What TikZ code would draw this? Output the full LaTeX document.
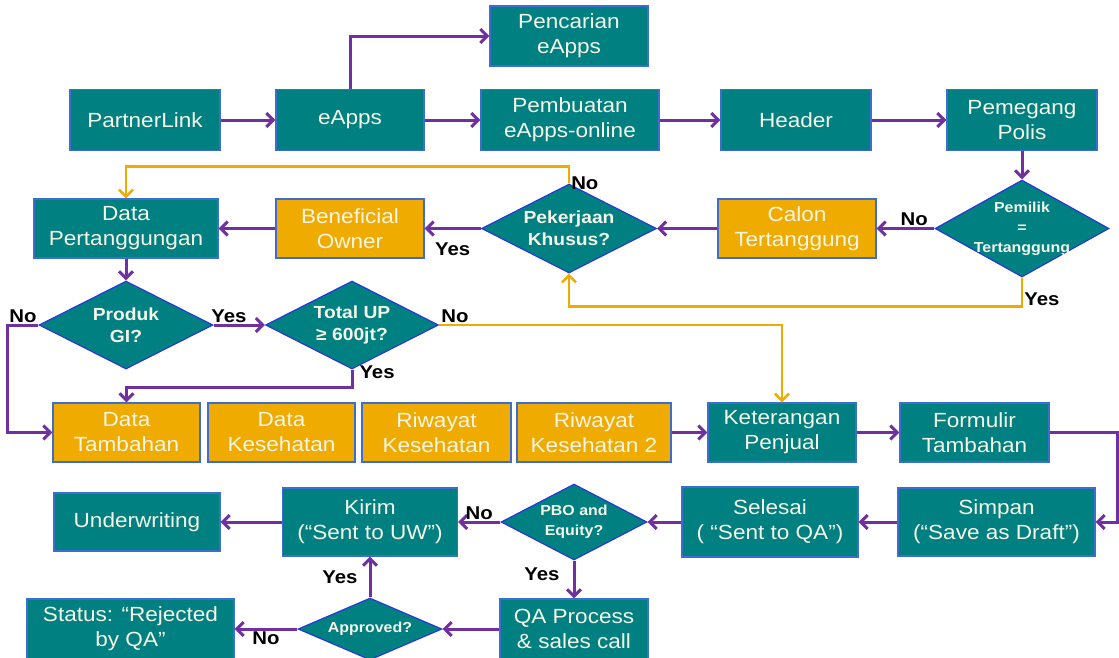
\documentclass[tikz,border=0pt]{standalone}
\usepackage{fontspec}
\setmainfont{Liberation Sans}[FakeStretch=1.1]
\usetikzlibrary{shapes.geometric, arrows.meta, positioning}

\definecolor{tealbox}{RGB}{0,128,128}
\definecolor{orangebox}{RGB}{240,171,0}
\definecolor{boxline}{RGB}{60,110,210}
\definecolor{dline}{RGB}{40,50,225}
\definecolor{flowline}{RGB}{112,48,160}
\definecolor{boxtext}{RGB}{245,245,232}
\newcommand{\boxfont}{\fontsize{20.5}{25}\selectfont}
\newcommand{\decfont}{\bfseries\fontsize{17.5}{22}\selectfont}
\newcommand{\smalldec}{\bfseries\fontsize{14.5}{20}\selectfont}
\newcommand{\lblfont}{\bfseries\fontsize{18.5}{20}\selectfont}

\begin{document}
\begin{tikzpicture}[
    x=1pt, y=-1pt,
    >={Straight Barb[length=7pt, width=14pt]},
    box/.style={rectangle, draw=boxline, line width=1.1pt, fill=tealbox, text=boxtext, align=center, inner sep=0pt, font=\boxfont},
    obox/.style={box, fill=orangebox},
    wh/.style 2 args={minimum width=#1pt, minimum height=#2pt},
    decision/.style={diamond, draw=dline, line width=1.1pt, fill=tealbox, inner sep=0pt},
    dtext/.style={text=boxtext, align=center, font=\decfont},
    flow/.style={->, draw=flowline, line width=3pt},
    oflow/.style={->, draw=orangebox, line width=2.6pt},
    lbl/.style={font=\lblfont, text=black, inner sep=1pt}
  ]
  \path[use as bounding box, fill=white] (0,0) rectangle (1119,657);

  % --- BARIS ATAS ---
  \node[box, wh={150}{61}] (plink) at (145,120) {PartnerLink};
  \node[box, wh={148}{61}] (eapps) at (350,120) {eApps};
  \node[box, wh={158}{60}] (cari) at (569,36) {Pencarian\\eApps};
  \node[box, wh={178}{61}] (buat) at (570,120) {Pembuatan\\eApps-online};
  \node[box, wh={150}{61}] (header) at (796,120) {Header};
  \node[box, wh={150}{61}] (pemegang) at (1022,120) {Pemegang\\Polis};

  % --- BARIS KEDUA ---
  \node[decision, wh={174}{97}, label={[dtext, font=\smalldec]center:{Pemilik\\=\\Tertanggung}}] (pemilik) at (1022,228.5) {};
  \node[obox, wh={158}{59}] (calon) at (797,228.5) {Calon\\Tertanggung};
  \node[decision, wh={175}{89}, label={[dtext]center:{Pekerjaan\\Khusus?}}] (kerja) at (569,228.5) {};
  \node[obox, wh={148}{59}] (benef) at (350,228.5) {Beneficial\\Owner};
  \node[box, wh={184}{59}] (datap) at (126,228.5) {Data\\Pertanggungan};

  % --- KEPUTUSAN PRODUK ---
  \node[decision, wh={174}{88}, label={[dtext]center:{Produk\\GI?}}] (produk) at (126,325) {};
  \node[decision, wh={173}{88}, label={[dtext]center:{Total UP\\≥ 600jt?}}] (totup) at (352,325) {};

  % --- BARIS DATA ---
  \node[obox, wh={147}{59}] (dtamb) at (126.5,432.5) {Data\\Tambahan};
  \node[obox, wh={147}{59}] (dkes) at (281.5,432.5) {Data\\Kesehatan};
  \node[obox, wh={149}{59}] (riw) at (436.5,432.5) {Riwayat\\Kesehatan};
  \node[obox, wh={154}{59}] (riw2) at (594,432.5) {Riwayat\\Kesehatan 2};
  \node[box, wh={148}{59}] (keter) at (782,432.5) {Keterangan\\Penjual};
  \node[box, wh={149}{59}] (form) at (974.5,432.5) {Formulir\\Tambahan};

  % --- BARIS KIRIM ---
  \node[box, wh={166}{58}] (uw) at (137,522) {Underwriting};
  \node[box, wh={175}{68}] (kirim) at (370,522) {Kirim\\(“Sent to UW")};
  \node[decision, wh={146}{76}, label={[dtext, font=\smalldec]center:{PBO and\\Equity?}}] (pbo) at (574,522) {};
  \node[box, wh={176}{70}] (selesai) at (770,522) {Selesai\\( “Sent to QA")};
  \node[box, wh={197}{68}] (simpan) at (996.5,522) {Simpan\\(“Save as Draft")};

  % --- BARIS QA ---
  \node[box, wh={207}{60}] (status) at (130.5,629) {Status: “Rejected\\by QA”};
  \node[decision, wh={144}{62}, label={[dtext, font=\smalldec]center:{Approved?}}] (appr) at (370,629) {};
  \node[box, wh={148}{60}] (qa) at (574,629) {QA Process\\\& sales call};

  % --- ALUR ATAS ---
  \draw[flow] (plink) -- (eapps);
  \draw[flow] (eapps.north) |- (cari);
  \draw[flow] (eapps) -- (buat);
  \draw[flow] (buat) -- (header);
  \draw[flow] (header) -- (pemegang);
  \draw[flow] (pemegang) -- (pemilik);

  % --- ALUR TERTANGGUNG ---
  \draw[flow] (pemilik) -- node[lbl, above, pos=0.35] {No} (calon);
  \draw[flow] (calon) -- (kerja);
  \draw[flow] (kerja) -- node[lbl, below, yshift=-12pt] {Yes} (benef);
  \draw[flow] (benef) -- (datap);
  \draw[oflow] (pemilik.south) -- ++(0,29) node[lbl, anchor=west, yshift=7pt] {Yes} -| (kerja.south);
  \draw[oflow] (kerja.north) node[lbl, anchor=west] {No} -- ++(0,-17) -| (datap.north);

  % --- ALUR PRODUK ---
  \draw[flow] (datap) -- (produk);
  \draw[flow] (produk) -- node[lbl, above, pos=0.3] {Yes} (totup);
  \draw[flow] (produk.west) -- node[lbl, above] {No} ++(-31,0) |- (dtamb.west);
  \draw[flow] (totup.south) node[lbl, anchor=west, xshift=5pt, yshift=-3pt] {Yes} -- ++(0,18) -| (dtamb.north);
  \draw[oflow] (totup.east) node[lbl, anchor=south west] {No} -| (keter.north);

  % --- ALUR DATA ---
  \draw[flow] (riw2) -- (keter);
  \draw[flow] (keter) -- (form);
  \draw[flow] (form.east) -- ++(68,0) |- (simpan.east);

  % --- ALUR KIRIM ---
  \draw[flow] (simpan) -- (selesai);
  \draw[flow] (selesai) -- (pbo);
  \draw[flow] (pbo) -- node[lbl, above] {No} (kirim);
  \draw[flow] (kirim) -- (uw);
  \draw[flow] (pbo) -- node[lbl, left=12pt, pos=0.35] {Yes} (qa);
  \draw[flow] (qa) -- (appr);
  \draw[flow] (appr) -- node[lbl, left=10pt] {Yes} (kirim);
  \draw[flow] (appr) -- node[lbl, below] {No} (status);

\end{tikzpicture}
\end{document}
